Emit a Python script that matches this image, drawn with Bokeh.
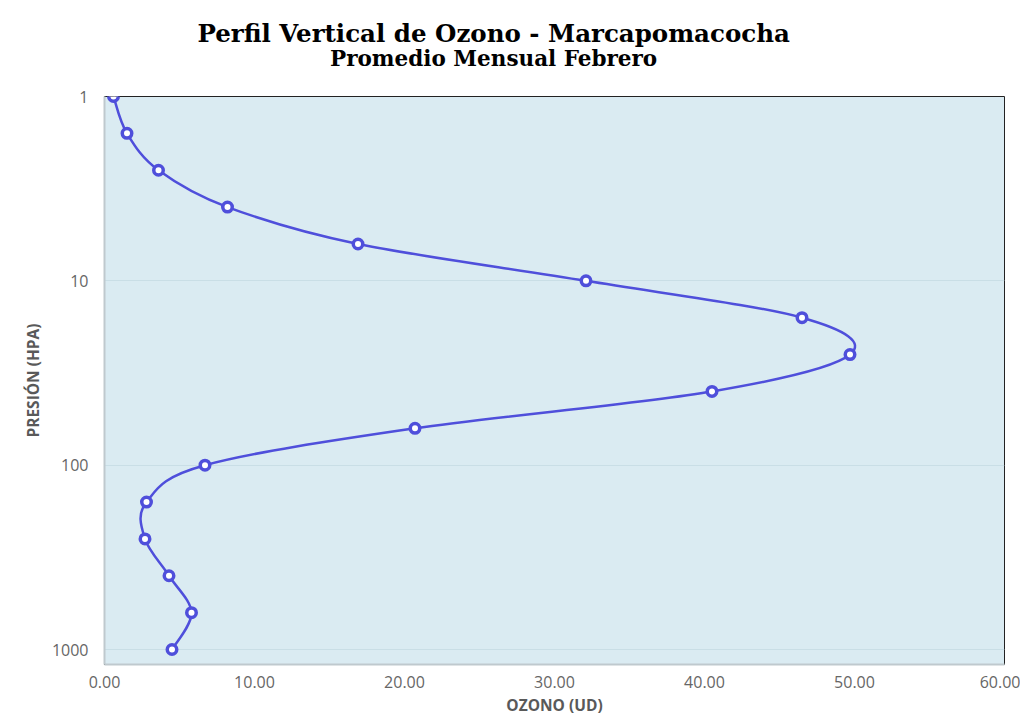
import numpy as np
from bokeh.plotting import figure
from bokeh.layouts import column
from bokeh.models import Range1d, FixedTicker, PrintfTickFormatter
from bokeh.core.properties import value
from bokeh.embed import file_html
from bokeh.resources import INLINE

# Data
pressure = [1, 1.585, 2.512, 3.981, 6.31, 10, 15.85, 25.12, 39.81, 63.1,
            100, 158.5, 251.2, 398.1, 631, 1000]
ozone = [0.6, 1.5, 3.6, 8.2, 16.9, 32.1, 46.5, 49.7, 40.5, 20.7,
         6.7, 2.8, 2.7, 4.3, 5.8, 4.5]
x_ticks = [0, 10, 20, 30, 40, 50, 60]
y_ticks = [1, 10, 100, 1000]
title_text = "Perfil Vertical de Ozono - Marcapomacocha"
subtitle_text = "Promedio Mensual Febrero"

W = 1020
TH = 86           # height of the title strip
H = 634           # height of the chart figure

# ---- title strip (pixel-like coordinates, y measured from top) ----
tfig = figure(width=W, height=TH, output_backend="svg", toolbar_location=None,
              x_range=Range1d(0, W), y_range=Range1d(TH, 0),
              x_axis_location=None, y_axis_location=None, min_border=0)
tfig.grid.visible = False
tfig.outline_line_color = None
tfig.background_fill_color = "white"
tfig.border_fill_color = "white"
tfig.text(x=[441], y=[33], text=[title_text], text_align="center",
          text_baseline="middle", text_font=value("DejaVu Serif"),
          text_font_style="bold", text_font_size="24.5px", text_color="black")
tfig.text(x=[441], y=[58], text=[subtitle_text], text_align="center",
          text_baseline="middle", text_font=value("DejaVu Serif"),
          text_font_style="bold", text_font_size="21.5px", text_color="black")

# ---- chart ----
p = figure(width=W, height=H, y_axis_type="log", output_backend="svg",
           toolbar_location=None,
           x_range=Range1d(0, 60), y_range=Range1d(1206, 1),
           min_border_left=104, min_border_right=W - 1004, min_border_top=96 - TH,
           min_border_bottom=H - (664 - TH))

p.background_fill_color = "#DAEBF2"
p.border_fill_color = "white"
p.outline_line_color = "#222222"
p.outline_line_width = 1

# Smooth curve (Excel-like Catmull-Rom bezier segments computed in x / log10(p) space)
xs = np.array(ozone, dtype=float)
ls = np.log10(np.array(pressure, dtype=float))
n = len(xs)
x0, y0, x1, y1, cx0, cy0, cx1, cy1 = [], [], [], [], [], [], [], []
for i in range(n - 1):
    im1 = max(i - 1, 0)
    ip2 = min(i + 2, n - 1)
    c0x = xs[i] + (xs[i + 1] - xs[im1]) / 6.0
    c0l = ls[i] + (ls[i + 1] - ls[im1]) / 6.0
    c1x = xs[i + 1] - (xs[ip2] - xs[i]) / 6.0
    c1l = ls[i + 1] - (ls[ip2] - ls[i]) / 6.0
    x0.append(xs[i]); y0.append(10 ** ls[i])
    x1.append(xs[i + 1]); y1.append(10 ** ls[i + 1])
    cx0.append(c0x); cy0.append(10 ** c0l)
    cx1.append(c1x); cy1.append(10 ** c1l)

p.bezier(x0=x0, y0=y0, x1=x1, y1=y1, cx0=cx0, cy0=cy0, cx1=cx1, cy1=cy1,
         line_color="#4F4FDB", line_width=2.5)
p.scatter(ozone, pressure, size=9.5, fill_color="white", line_color="#4F4FDB",
          line_width=3.5)

# Axes
p.xaxis.ticker = FixedTicker(ticks=x_ticks)
p.xaxis.formatter = PrintfTickFormatter(format="%.2f")
p.yaxis.ticker = FixedTicker(ticks=y_ticks)
p.yaxis.formatter = PrintfTickFormatter(format="%d")
for ax in (p.xaxis, p.yaxis):
    ax.major_tick_line_color = None
    ax.minor_tick_line_color = None
    ax.major_tick_out = 0
    ax.major_label_text_font = "Open Sans"
    ax.major_label_text_font_size = "16px"
    ax.major_label_text_color = "#666666"
    ax.axis_label_text_font = "Open Sans"
    ax.axis_label_text_font_style = "bold"
    ax.axis_label_text_font_size = "15.5px"
    ax.axis_label_text_color = "#595959"
    ax.axis_line_color = "#BFC9CE"
    ax.axis_line_width = 2
p.xaxis.axis_label = "OZONO (UD)"
p.yaxis.axis_label = "PRESIÓN (HPA)"
p.xaxis.major_label_standoff = 11
p.xaxis.axis_label_standoff = 3
p.yaxis.major_label_standoff = 16
p.yaxis.axis_label_standoff = 5

p.xgrid.grid_line_color = None
p.ygrid.ticker = FixedTicker(ticks=y_ticks)
p.ygrid.grid_line_color = "#C9DEE6"
p.ygrid.grid_line_width = 1

layout = column(tfig, p, spacing=0)
open("out.html", "w").write(file_html(layout, INLINE))
